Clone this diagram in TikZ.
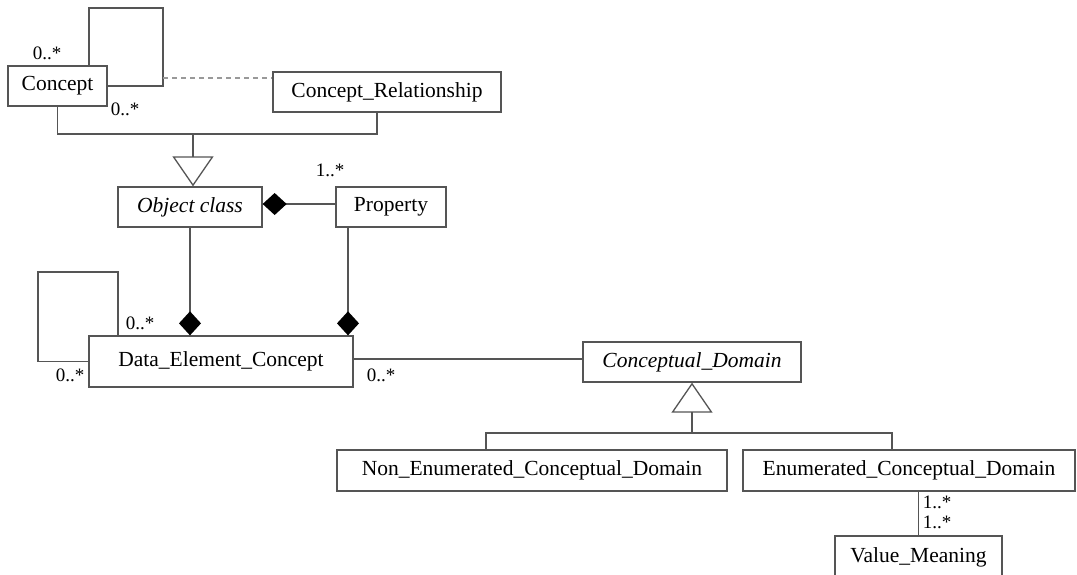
\documentclass[tikz,border=0pt]{standalone}
\usepackage{fontspec}
\setmainfont{Liberation Serif}
\usetikzlibrary{arrows.meta}
\definecolor{umlline}{RGB}{85,85,85}

\begin{document}
\begin{tikzpicture}[x=1pt,y=-1pt,line width=1.3pt,
  cls/.style={draw=umlline,fill=white,inner sep=0pt,minimum height=40pt,font=\fontsize{21.5}{24}\selectfont},
  mult/.style={inner sep=0pt,font=\fontsize{19}{21}\selectfont},
  comp/.style={-{Diamond[length=24pt,width=22pt,color=black]}},
  gen/.style={-{Triangle[open,length=30pt,width=41pt]}}]
\useasboundingbox (0,0) rectangle (1077,574); % frame
\fill[white] (0,0) rectangle (1077,574);

% classes
\node[cls,minimum width=99pt] (concept) at (57.5,86) {Concept};
\node[cls,minimum width=228pt] (rel) at (387,92) {Concept\_Relationship};
\node[cls,minimum width=144pt] (objcls) at (190,207) {\itshape Object class};
\node[cls,minimum width=110pt] (prop) at (391,207) {Property};
\node[cls,minimum width=264pt,minimum height=51pt] (dec) at (221,361.5) {Data\_Element\_Concept};
\node[cls,minimum width=218pt] (cd) at (692,362) {\itshape Conceptual\_Domain};
\node[cls,minimum width=390pt,minimum height=41pt] (necd) at (532,470.5) {Non\_Enumerated\_Conceptual\_Domain};
\node[cls,minimum width=332pt,minimum height=41pt] (ecd) at (909,470.5) {Enumerated\_Conceptual\_Domain};
\node[cls,minimum width=167pt,minimum height=42pt] (vm) at (918.5,557) {Value\_Meaning};

% bend points
\coordinate (cloop) at (163,8);
\coordinate (cdash) at (163,78);
\coordinate (gen) at (193,134);
\coordinate (dloop) at (38,272);
\coordinate (cdjoin) at (692,433);
\coordinate (propdrop) at ([xshift=-43pt]prop.south);
\coordinate (ocprop) at ([yshift=3pt]objcls.east);
\coordinate (decline) at (0,359);

\draw[umlline] ([xshift=31.5pt]concept.north) |- (cloop) |- (concept.east); % Concept to itself
\draw[umlline!60,dashed,dash pattern=on 5pt off 4pt] (cdash) -- (cdash -| rel.west); % association class
\draw[umlline] (concept.south) |- (gen) -| ([xshift=-10pt]rel.south);
\draw[umlline,gen] (gen) -- (gen |- objcls.north); % generalization

\draw[umlline,comp] (ocprop -| prop.west) -- (ocprop);
\draw[umlline,comp] (objcls.south) -- (dec.north -| objcls.south);
\draw[umlline,comp] (propdrop) -- (dec.north -| propdrop);
\draw[umlline] ([xshift=-103pt]dec.north) |- (dloop) |- (dec.west); % DEC to itself
\draw[umlline] (decline -| dec.east) -- (decline -| cd.west);

\draw[umlline,gen] (cdjoin) -- (cd.south);
\draw[umlline] ([xshift=-46pt]necd.north) |- ([xshift=-17pt]ecd.north |- cdjoin) -- ([xshift=-17pt]ecd.north);
\draw[umlline] (vm.north |- ecd.south) -- (vm.north);

% multiplicities
\node[mult] (m1) at (47,53) {0..*};
\node[mult] (m2) at (125,109) {0..*};
\node[mult] (m3) at (330,170) {1..*};
\node[mult] (m4) at (140,323) {0..*};
\node[mult] (m5) at (70,375) {0..*};
\node[mult] (m6) at (381,375) {0..*};
\node[mult] (m7) at (937,502) {1..*};
\node[mult] (m8) at (937,522) {1..*};
\end{tikzpicture}
\end{document}
